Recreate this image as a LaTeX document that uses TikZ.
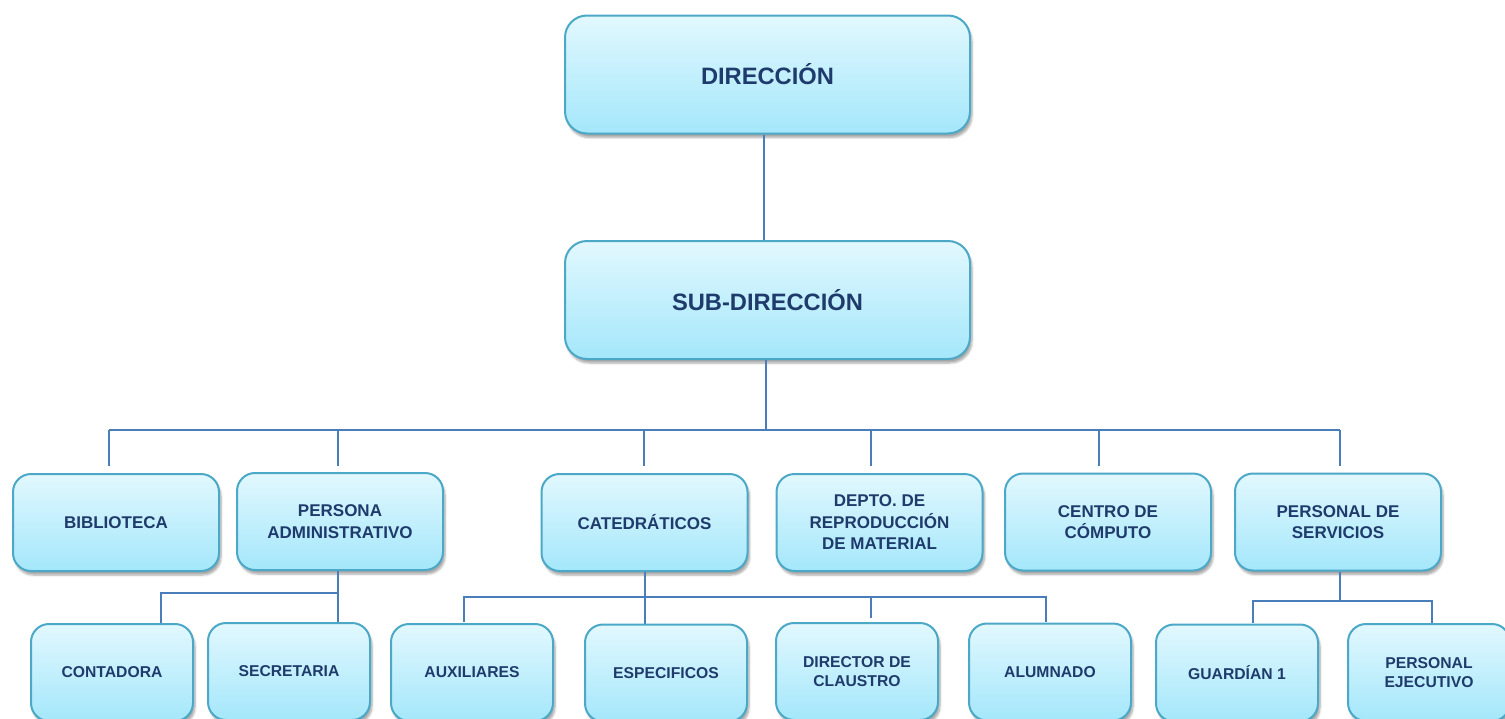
\documentclass[tikz,border=0pt]{standalone}
\usepackage{fontspec}
\setmainfont{Liberation Sans}
\usetikzlibrary{shadows,shadows.blur}
\definecolor{boxtop}{HTML}{E2F8FE}
\definecolor{boxbot}{HTML}{A4E7FB}
\definecolor{boxline}{HTML}{4BA8C6}
\definecolor{conncol}{HTML}{4A7EBB}
\definecolor{txtcol}{HTML}{1F3B6C}
\tikzset{
  orgbox/.style={rectangle, rounded corners=18pt, draw=boxline, line width=2pt,
    top color=boxtop, bottom color=boxbot, text=txtcol, align=center,
    font=\bfseries\fontsize{17}{21.5}\selectfont, inner sep=0pt,
    blur shadow={shadow xshift=2pt, shadow yshift=-4pt, shadow blur steps=6, shadow opacity=35}},
  bigbox/.style={orgbox, rounded corners=22pt, minimum width=405pt, minimum height=118pt,
    font=\bfseries\fontsize{23.7}{28}\selectfont},
  midbox/.style={orgbox, minimum width=206pt, minimum height=97pt},
  lowbox/.style={orgbox, minimum width=162pt, minimum height=97pt,
    font=\bfseries\fontsize{15.7}{19.5}\selectfont},
  conn/.style={draw=conncol, line width=2pt}
}
\begin{document}
\begin{tikzpicture}[x=1pt,y=-1pt]
\useasboundingbox (0,0) rectangle (1505,718);
\clip (0,0) rectangle (1505,718);
% connectors first
\coordinate (j0) at (766,430);
\coordinate (jL) at (109,430);
\coordinate (jR) at (1340,430);
\coordinate (t1) at (109,466);
\coordinate (t2) at (338,466);
\coordinate (t3) at (644,466);
\coordinate (t4) at (871,466);
\coordinate (t5) at (1099,466);
\coordinate (t6) at (1340,466);
\coordinate (a0) at (338,593);
\coordinate (a1) at (161,593);
\coordinate (a2) at (161,623);
\coordinate (a3) at (338,623);
\coordinate (c0) at (645,597);
\coordinate (c1) at (464,597);
\coordinate (c2) at (1046,597);
\coordinate (c3) at (464,622);
\coordinate (c4) at (645,624);
\coordinate (c5) at (871,597);
\coordinate (c6) at (871,618);
\coordinate (c7) at (1046,622);
\coordinate (s0) at (1340,601);
\coordinate (s1) at (1253,601);
\coordinate (s2) at (1432,601);
\coordinate (s3) at (1253,623);
\coordinate (s4) at (1432,623);

% boxes
\node[bigbox] (dir) at (767.5,74.5) {DIRECCIÓN};
\node[bigbox] (sub) at (767.5,300) {SUB-DIRECCIÓN};

\draw[conn] (dir.south -| 764,0) -- (sub.north -| 764,0);
\draw[conn] (sub.south -| j0) -- (j0);
\draw[conn] (jL) -- (jR);
\draw[conn] (jL) -- (t1);
\draw[conn] (t2 |- j0) -- (t2);
\draw[conn] (t3 |- j0) -- (t3);
\draw[conn] (t4 |- j0) -- (t4);
\draw[conn] (t5 |- j0) -- (t5);
\draw[conn] (jR) -- (t6);

\node[midbox] (bib) at (116,522.5) {BIBLIOTECA};
\node[midbox] (adm) at (340,521.5) {PERSONA\\ADMINISTRATIVO};
\node[midbox] (cat) at (644.5,522.5) {CATEDRÁTICOS};
\node[midbox] (dep) at (879.5,522.5) {DEPTO. DE\\REPRODUCCIÓN\\DE MATERIAL};
\node[midbox] (cen) at (1108,522) {CENTRO DE\\CÓMPUTO};
\node[midbox] (ser) at (1338,522) {PERSONAL DE\\SERVICIOS};

\draw[conn] (adm.south -| a0) -- (a3);
\draw[conn] (a0) -- (a1) -- (a2);
\draw[conn] (cat.south -| c0) -- (c4);
\draw[conn] (c3) -- (c1) -- (c2) -- (c7);
\draw[conn] (c5) -- (c6);
\draw[conn] (ser.south -| s0) -- (s0);
\draw[conn] (s3) -- (s1) -- (s2) -- (s4);

\node[lowbox] (con) at (112,672.5) {CONTADORA};
\node[lowbox] (sec) at (289,671.5) {SECRETARIA};
\node[lowbox] (aux) at (472,672.5) {AUXILIARES};
\node[lowbox] (esp) at (666,673) {ESPECIFICOS};
\node[lowbox] (dcl) at (857,671.5) {DIRECTOR DE\\CLAUSTRO};
\node[lowbox] (alu) at (1050,672) {ALUMNADO};
\node[lowbox] (gua) at (1237,673) {GUARDÍAN 1};
\node[lowbox] (eje) at (1429,672.5) {PERSONAL\\EJECUTIVO};
\end{tikzpicture}
\end{document}
